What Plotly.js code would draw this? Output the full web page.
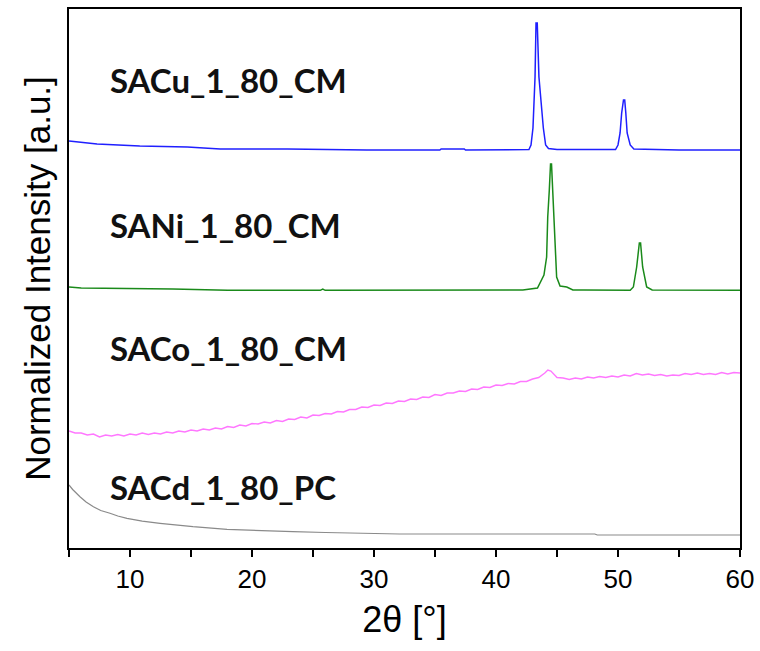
<!DOCTYPE html>
<html>
<head>
<meta charset="utf-8">
<script src="https://cdn.plot.ly/plotly-3.0.1.min.js"></script>
<style>html,body{margin:0;padding:0;background:#fff;}#chart{width:760px;height:651px;}</style>
</head>
<body>
<div id="chart"></div>
<script>
// 2θ (degrees) and normalized intensity (a.u., stacked with offsets)
const cuX = [5,7.3,10.8,14.7,17.4,22.9,29.4,35.4,35.5,37.4,37.5,41.1,42.7,42.87,43.03,43.2,43.28,43.38,43.52,43.88,44.07,44.3,45,49.8,50.0,50.17,50.3,50.45,50.55,50.64,50.75,51.0,51.3,55,60];
const cuY = [4.07,4.04,4.02,4.01,3.99,3.99,3.98,3.98,3.99,3.99,3.98,3.98,3.985,4.03,4.20,4.71,5.25,5.25,4.71,4.20,4.03,3.995,3.985,3.985,4.03,4.15,4.35,4.48,4.48,4.35,4.15,4.03,3.99,3.98,3.98];

const niX = [5,6,13.5,18,25.6,25.8,26.0,42.2,43.4,43.93,44.15,44.24,44.37,44.47,44.55,44.7,44.84,44.97,45.25,45.8,46.3,47.0,47.2,51.0,51.26,51.53,51.75,51.85,52.02,52.35,52.8,60];
const niY = [2.61,2.60,2.59,2.577,2.577,2.59,2.577,2.58,2.60,2.73,2.91,3.31,3.58,3.84,3.84,3.48,3.01,2.71,2.62,2.61,2.58,2.575,2.58,2.577,2.61,2.81,3.05,3.05,2.81,2.61,2.58,2.577];

const coX = [5.0,5.5,6.0,6.5,7.0,7.5,8.0,8.5,9.0,9.5,10.0,10.5,11.0,11.5,12.0,12.5,13.0,13.5,14.0,14.5,15.0,15.5,16.0,16.5,17.0,17.5,18.0,18.5,19.0,19.5,20.0,20.5,21.0,21.5,22.0,22.5,23.0,23.5,24.0,24.5,25.0,25.5,26.0,26.5,27.0,27.5,28.0,28.5,29.0,29.5,30.0,30.5,31.0,31.5,32.0,32.5,33.0,33.5,34.0,34.5,35.0,35.5,36.0,36.5,37.0,37.5,38.0,38.5,39.0,39.5,40.0,40.5,41.0,41.5,42.0,42.5,43.0,43.5,44.0,44.25,44.5,45.0,45.5,46.0,46.5,47.0,47.5,48.0,48.5,49.0,49.5,50.0,50.5,51.0,51.5,52.0,52.5,53.0,53.5,54.0,54.5,55.0,55.5,56.0,56.5,57.0,57.5,58.0,58.5,59.0,59.5,60.0];
const coY = [1.17,1.15,1.15,1.13,1.14,1.11,1.13,1.12,1.135,1.12,1.14,1.13,1.15,1.135,1.15,1.14,1.16,1.15,1.17,1.16,1.18,1.17,1.19,1.18,1.20,1.19,1.215,1.205,1.23,1.22,1.245,1.24,1.26,1.25,1.275,1.265,1.29,1.285,1.31,1.30,1.33,1.325,1.345,1.34,1.365,1.36,1.385,1.385,1.41,1.405,1.43,1.425,1.45,1.445,1.47,1.465,1.49,1.485,1.51,1.505,1.535,1.525,1.55,1.55,1.57,1.565,1.59,1.585,1.61,1.605,1.63,1.625,1.645,1.64,1.665,1.665,1.69,1.705,1.75,1.78,1.77,1.705,1.70,1.685,1.70,1.69,1.71,1.70,1.715,1.705,1.72,1.71,1.73,1.72,1.745,1.73,1.74,1.725,1.735,1.72,1.73,1.725,1.745,1.735,1.75,1.735,1.745,1.735,1.755,1.74,1.755,1.75];

const cdX = [5,5.3,5.9,6.4,7.0,7.6,8.36,9.0,9.75,11.0,12.46,13.8,15.16,17.95,20.0,23.36,26.0,28.85,32.1,38.0,48.1,48.3,60];
const cdY = [0.63,0.585,0.513,0.46,0.413,0.375,0.347,0.32,0.297,0.268,0.247,0.228,0.213,0.187,0.176,0.163,0.155,0.147,0.14,0.14,0.14,0.13,0.13];

const sampleNames = ["SACu_1_80_CM","SANi_1_80_CM","SACo_1_80_CM","SACd_1_80_PC"];
const labelY = [4.68,3.23,2.00,0.61];
const xTickVals = [10,20,30,40,50,60];
const xTickText = ["10","20","30","40","50","60"];

const series = [
  {x: cuX, y: cuY, color: "#1f1fff", width: 1.5},
  {x: niX, y: niY, color: "#1a8a1a", width: 1.5},
  {x: coX, y: coY, color: "#ff77ff", width: 1.4},
  {x: cdX, y: cdY, color: "#8a8a8a", width: 1.2}
];
const traces = series.map((s, i) => ({
  type: "scatter", mode: "lines", x: s.x, y: s.y, name: sampleNames[i],
  line: {color: s.color, width: s.width}, showlegend: false
}));

const annotations = sampleNames.map((n, i) => ({
  text: n, x: 8.2, y: labelY[i], xref: "x", yref: "y", xanchor: "left", yanchor: "middle",
  showarrow: false, font: {family: "Lato, 'Open Sans', sans-serif", size: 33, color: "#111", weight: "bold"}
}));

const axisFont = "'Liberation Sans', Arial, sans-serif";
const layout = {
  width: 760, height: 651,
  margin: {l: 69, r: 20, t: 9, b: 103},
  paper_bgcolor: "#fff", plot_bgcolor: "#fff",
  xaxis: {
    range: [5, 60], showgrid: false, zeroline: false,
    showline: true, linecolor: "#000", linewidth: 2, mirror: true,
    ticks: "outside", ticklen: 7, tickwidth: 1.5, tickcolor: "#000",
    tickvals: xTickVals, ticktext: xTickText,
    minor: {ticks: "outside", ticklen: 7, tickwidth: 1.5, tickcolor: "#000", dtick: 5, tick0: 5, showgrid: false},
    tickfont: {family: axisFont, size: 26, color: "#000"},
    title: {text: "2θ [°]", font: {family: axisFont, size: 36, color: "#000"}, standoff: 14}
  },
  yaxis: {
    range: [0, 5.39], showgrid: false, zeroline: false,
    showline: true, linecolor: "#000", linewidth: 2, mirror: true,
    ticks: "", showticklabels: false,
    title: {text: "Normalized Intensity [a.u.]", font: {family: axisFont, size: 35, color: "#000"}, standoff: 6}
  },
  annotations: annotations
};

Plotly.newPlot("chart", traces, layout, {displayModeBar: false, staticPlot: true});
</script>
</body>
</html>
